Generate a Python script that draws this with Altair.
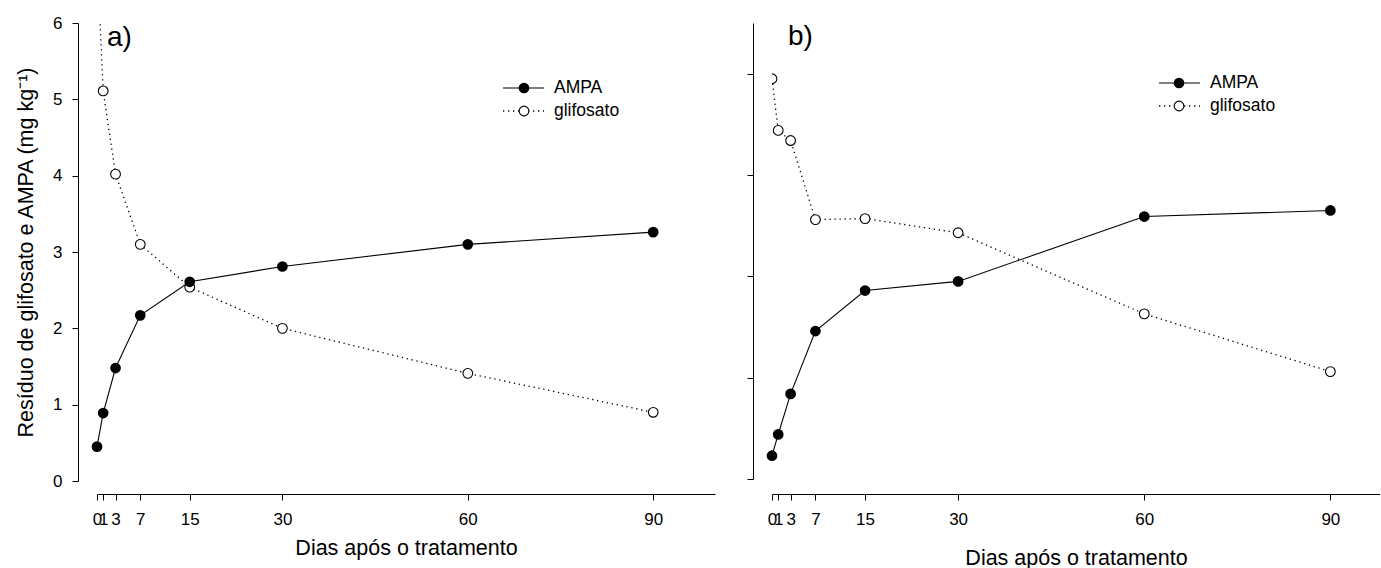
import altair as alt
import pandas as pd

# Sampling days after treatment
days = [0, 1, 3, 7, 15, 30, 60, 90]

# Panel a) residues (mg kg-1)
ampa_a = [0.45, 0.89, 1.48, 2.17, 2.61, 2.81, 3.10, 3.26]
glif_a = [6.9, 5.11, 4.02, 3.10, 2.54, 2.00, 1.41, 0.90]

# Panel b) residues
ampa_b = [0.23, 0.44, 0.84, 1.46, 1.86, 1.95, 2.59, 2.65]
glif_b = [3.95, 3.44, 3.34, 2.56, 2.57, 2.43, 1.63, 1.06]

series = ["AMPA", "glifosato"]
panel_labels = ["a)", "b)"]
y_ticks_a = [0, 1, 2, 3, 4, 5, 6]
y_ticks_b = [0, 1, 2, 3, 4]
x_title = "Dias após o tratamento"
y_title = "Resíduo de glifosato e AMPA (mg kg⁻¹)"

FONT = "Liberation Sans"


def one_row(col, val):
    return alt.Chart(pd.DataFrame({col: [val]}))


def panel(ampa, glif, label, width, height, x_max, y_domain, y_axis,
          x_offset, x_title_pad, label_pos, legend_pos):
    x = alt.X(
        "dia:Q",
        scale=alt.Scale(domain=[0, x_max], nice=False, zero=False),
        axis=alt.Axis(values=days, title=x_title, offset=x_offset,
                      titlePadding=x_title_pad, labelOverlap=False,
                      labelFlush=False, grid=False, tickSize=6,
                      labelPadding=11),
    )
    y = alt.Y(
        "valor:Q",
        scale=alt.Scale(domain=y_domain, nice=False, zero=False),
        axis=y_axis,
    )
    df_ampa = pd.DataFrame({"dia": days, "valor": ampa})
    df_glif = pd.DataFrame({"dia": days, "valor": glif})

    line_ampa = alt.Chart(df_ampa).mark_line(
        color="black", strokeWidth=1.1).encode(x=x, y=y)
    line_glif = alt.Chart(df_glif).mark_line(
        color="black", strokeWidth=1.3, strokeDash=[1.3, 3.7],
        clip=True).encode(x=x, y=y)
    pts_glif = alt.Chart(df_glif).mark_circle(
        color="black", fill="white", stroke="black", strokeWidth=1.1,
        size=95, opacity=1, clip=True).encode(x=x, y=y)
    pts_ampa = alt.Chart(df_ampa).mark_circle(
        color="black", size=115, opacity=1).encode(x=x, y=y)

    # panel letter
    lx, ly = label_pos
    tag = one_row("rotulo", label).mark_text(
        align="left", baseline="alphabetic", fontSize=28, font=FONT,
        color="black").encode(x=alt.value(lx), y=alt.value(ly),
                              text="rotulo:N")

    # in-plot key
    x1, xm, x2, xt, y1, y2 = legend_pos
    key_line_a = one_row("serie", series[0]).mark_rule(
        color="black", strokeWidth=1.1).encode(
        x=alt.value(x1), x2=alt.value(x2), y=alt.value(y1))
    key_line_g = one_row("serie", series[1]).mark_rule(
        color="black", strokeWidth=1.3, strokeDash=[1.3, 3.7]).encode(
        x=alt.value(x1), x2=alt.value(x2), y=alt.value(y2))
    key_pt_a = one_row("serie", series[0]).mark_circle(
        color="black", size=115, opacity=1).encode(
        x=alt.value(xm), y=alt.value(y1))
    key_pt_g = one_row("serie", series[1]).mark_circle(
        color="black", fill="white", stroke="black", strokeWidth=1.1,
        size=95, opacity=1).encode(x=alt.value(xm), y=alt.value(y2))
    key_txt_a = one_row("serie", series[0]).mark_text(
        align="left", baseline="middle", fontSize=17.5, font=FONT,
        color="black").encode(x=alt.value(xt), y=alt.value(y1),
                              text="serie:N")
    key_txt_g = one_row("serie", series[1]).mark_text(
        align="left", baseline="middle", fontSize=17.5, font=FONT,
        color="black").encode(x=alt.value(xt), y=alt.value(y2),
                              text="serie:N")

    return alt.layer(
        line_ampa, line_glif, pts_glif, pts_ampa, tag,
        key_line_a, key_line_g, key_pt_a, key_pt_g, key_txt_a, key_txt_g,
    ).properties(width=width, height=height)


axis_a = alt.Axis(values=y_ticks_a, title=y_title, offset=19, tickSize=6,
                  labelPadding=10, titlePadding=15, grid=False, format="d")
axis_b = alt.Axis(values=y_ticks_b, title=None, labels=False, offset=19,
                  tickSize=6, grid=False)

panel_a = panel(ampa_a, glif_a, panel_labels[0], 618, 458, 100, [0, 6],
                axis_a, 13, 10, (10, 23),
                (406, 427, 447, 457, 65, 88))
panel_b = panel(ampa_b, glif_b, panel_labels[1], 608, 456, 98, [0, 4.5],
                axis_b, 15, 20, (16, 22),
                (387, 407, 428, 438, 60, 83))

chart = alt.hconcat(panel_a, panel_b, spacing=57, bounds="flush").properties(
    padding={"left": 15, "top": 14, "right": 0, "bottom": 0}
).configure_view(stroke=None).configure_axis(
    domainColor="black", tickColor="black", labelColor="black",
    titleColor="black", labelFont=FONT, titleFont=FONT, labelFontSize=17,
    titleFontSize=21.5, titleFontWeight="normal", domainWidth=1, tickWidth=1,
)

chart.save("out.html", embed_options={"renderer": "svg", "actions": False})
